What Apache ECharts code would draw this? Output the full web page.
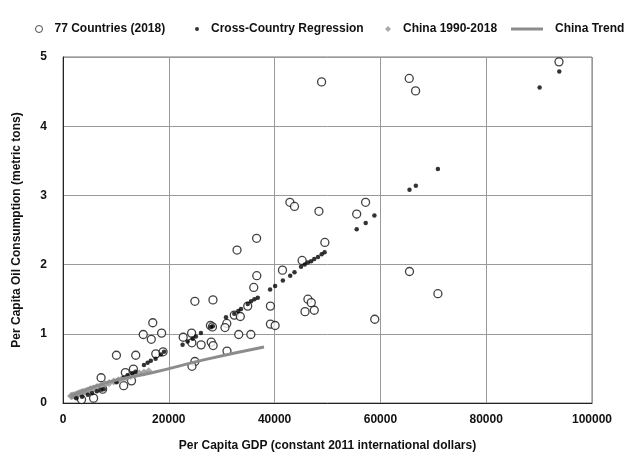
<!DOCTYPE html>
<html lang="en">
<head>
<meta charset="UTF-8">
<title>Oil consumption vs GDP</title>
<script src="https://cdn.jsdelivr.net/npm/echarts@6/dist/echarts.min.js"></script>
<style>
  html, body { margin: 0; padding: 0; width: 100%; height: 100%; background: #fff; }
  #chart { width: 630px; height: 464px; }
</style>
</head>
<body>
<div id="chart"></div>
<script>
// 77 countries, 2018: per capita GDP / per capita oil (t)
var countryGdp = [93760, 48880, 65450, 66650, 42890, 43760, 48380, 57200, 55520, 49500,
  36600, 32900, 45200, 41490, 36630, 36060, 46300, 46930, 45750, 47500,
  58930, 65500, 70870, 39210, 34920, 32380, 33520, 39210, 40100, 24930,
  28350, 27870, 28250, 30960, 30620, 33220, 35510, 22720, 24310, 24360,
  26110, 28020, 28380, 31000, 24930, 24380, 16970, 15170, 16690, 18640,
  17540, 18920, 10100, 13750, 11790, 13310, 7200, 11470, 12950, 3510,
  5780, 7490];
var countryOil = [4.93, 4.64, 4.69, 4.51, 2.90, 2.84, 2.77, 2.90, 2.73, 2.32,
  2.38, 2.21, 2.06, 1.92, 1.84, 1.67, 1.50, 1.45, 1.32, 1.34,
  1.21, 1.90, 1.58, 1.40, 1.40, 1.27, 1.25, 1.14, 1.12, 1.47,
  1.49, 1.12, 1.10, 1.15, 1.09, 0.99, 0.99, 0.95, 1.01, 0.87,
  0.84, 0.88, 0.83, 0.75, 0.60, 0.53, 1.16, 0.99, 0.92, 1.01,
  0.71, 0.74, 0.69, 0.69, 0.44, 0.49, 0.365, 0.25, 0.32, 0.05,
  0.07, 0.20];

// cross-country regression fitted values
var regGdp = [2500, 3600, 4700, 5500, 6400, 7200, 7700, 10100, 11500, 12200,
  13100, 13700, 15300, 16000, 16600, 17500, 18500, 19100, 22600, 23550,
  24500, 25120, 26070, 27970, 28300, 30810, 32380, 33140, 33650, 34920,
  35550, 36180, 36820, 39150, 40100, 41560, 42950, 43760, 45000, 45700,
  46300, 46900, 47500, 48200, 48900, 49450, 55520, 57220, 58870, 65500,
  66700, 70870, 90100, 93810];
var regOil = [0.07, 0.09, 0.12, 0.14, 0.17, 0.19, 0.20, 0.30, 0.37, 0.40,
  0.43, 0.45, 0.55, 0.58, 0.61, 0.64, 0.70, 0.74, 0.84, 0.89,
  0.93, 0.96, 1.01, 1.10, 1.11, 1.24, 1.29, 1.33, 1.36, 1.43,
  1.47, 1.50, 1.52, 1.64, 1.69, 1.77, 1.84, 1.89, 1.97, 2.00,
  2.03, 2.05, 2.08, 2.11, 2.15, 2.18, 2.51, 2.60, 2.71, 3.08,
  3.14, 3.38, 4.56, 4.79];

// China 1990-2018
var chinaGdp = [1520, 1640, 1850, 2090, 2340, 2570, 2790, 3020, 3230, 3450,
  3700, 3980, 4320, 4730, 5180, 5750, 6440, 7330, 8000, 8720,
  9590, 10440, 11200, 12000, 12800, 13600, 14400, 15300, 16200];
var chinaOil = [0.10, 0.10, 0.11, 0.11, 0.12, 0.12, 0.13, 0.14, 0.14, 0.15,
  0.16, 0.16, 0.17, 0.18, 0.20, 0.21, 0.23, 0.25, 0.27, 0.29,
  0.31, 0.33, 0.35, 0.37, 0.39, 0.41, 0.43, 0.44, 0.46];

// China trend
var trendGdp = [1500, 8000, 17000, 27000, 38000];
var trendOil = [0.10, 0.29, 0.44, 0.63, 0.81];

var xTicks = [0, 20000, 40000, 60000, 80000, 100000];
var yTicks = [0, 1, 2, 3, 4, 5];

function zip(a, b) {
  var out = [];
  for (var i = 0; i < a.length; i++) out.push([a[i], b[i]]);
  return out;
}

var font = '"Liberation Sans", Arial, sans-serif';
var labelStyle = { fontFamily: font, fontWeight: 'bold', fontSize: 12, color: '#111' };

// one legend per entry so each sits where the reference has it
function legendAt(left, name, icon, w, h, extra) {
  var item = { name: name, icon: icon };
  if (extra) item.itemStyle = extra;
  return {
    top: 18, left: left, itemWidth: w, itemHeight: h, itemGap: 0,
    textStyle: Object.assign({ padding: [0, 0, 0, 7] }, labelStyle),
    data: [item]
  };
}

var myChart = echarts.init(document.getElementById('chart'));
var options = {
  backgroundColor: '#fff',
  animation: false,
  textStyle: { fontFamily: font },
  legend: [
    legendAt(30, '77 Countries (2018)', 'circle', 7, 7,
      { color: '#fff', borderColor: '#222', borderWidth: 1 }),
    legendAt(190, 'Cross-Country Regression', 'circle', 4, 4),
    legendAt(380, 'China 1990-2018', 'diamond', 6, 6),
    legendAt(506, 'China Trend', 'rect', 32, 3)
  ],
  grid: {
    left: 63, right: 38, top: 57, bottom: 61,
    show: true, borderColor: '#777', borderWidth: 1
  },
  xAxis: {
    type: 'value',
    min: xTicks[0], max: xTicks[xTicks.length - 1], interval: 20000,
    name: 'Per Capita GDP (constant 2011 international dollars)',
    nameLocation: 'middle', nameGap: 37,
    nameTextStyle: labelStyle,
    axisLine: { lineStyle: { color: '#222' } },
    axisTick: { show: false },
    axisLabel: Object.assign({ margin: 11, formatter: function (v) { return String(v); } }, labelStyle),
    splitLine: { lineStyle: { color: '#999', width: 1 } }
  },
  yAxis: {
    type: 'value',
    min: yTicks[0], max: yTicks[yTicks.length - 1], interval: 1,
    name: 'Per Capita Oil Consumption (metric tons)',
    nameLocation: 'middle', nameGap: 40,
    nameTextStyle: labelStyle,
    axisLine: { show: true, lineStyle: { color: '#222' } },
    axisTick: { show: false },
    axisLabel: Object.assign({ margin: 16 }, labelStyle),
    splitLine: { lineStyle: { color: '#999', width: 1 } }
  },
  series: [
    {
      name: '77 Countries (2018)',
      type: 'scatter',
      symbol: 'circle',
      symbolSize: 8,
      itemStyle: { color: '#fff', borderColor: '#111', borderWidth: 1.3 },
      data: zip(countryGdp, countryOil),
      z: 2
    },
    {
      name: 'China 1990-2018',
      type: 'scatter',
      symbol: 'diamond',
      symbolSize: 8,
      itemStyle: { color: '#959595' },
      data: zip(chinaGdp, chinaOil),
      z: 3
    },
    {
      name: 'Cross-Country Regression',
      type: 'scatter',
      symbol: 'circle',
      symbolSize: 4.5,
      itemStyle: { color: '#000' },
      data: zip(regGdp, regOil),
      z: 4
    },
    {
      name: 'China Trend',
      type: 'line',
      smooth: true,
      showSymbol: false,
      symbol: 'none',
      lineStyle: { color: '#8c8c8c', width: 3 },
      itemStyle: { color: '#8c8c8c' },
      data: zip(trendGdp, trendOil),
      z: 5
    }
  ]
};
myChart.setOption(options);
</script>
</body>
</html>
